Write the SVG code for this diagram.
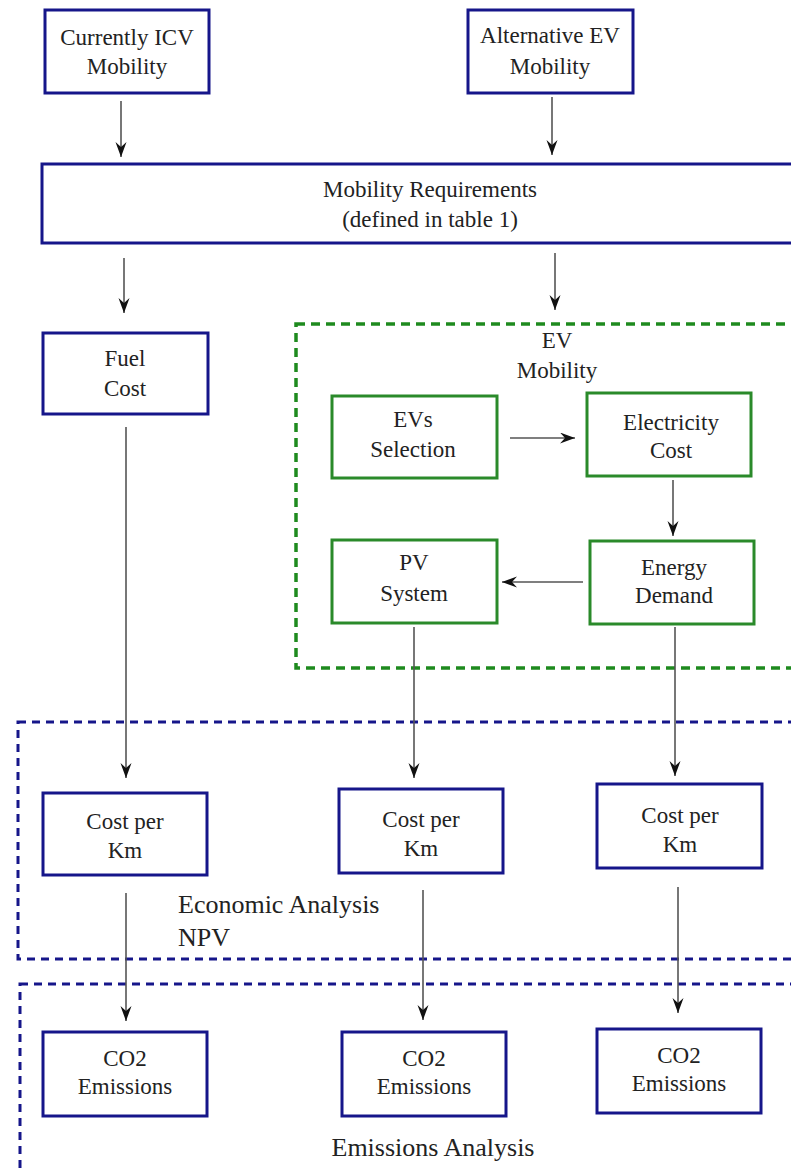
<svg xmlns="http://www.w3.org/2000/svg" width="791" height="1169" viewBox="0 0 791 1169">
<style>
.bn{fill:#fff;stroke:#16168a;stroke-width:3}
.gn{fill:#fff;stroke:#2a8a2a;stroke-width:3}
.t{font-family:"Liberation Serif","Times New Roman",serif;font-size:23px;fill:#222;text-anchor:middle}
.tl{font-family:"Liberation Serif","Times New Roman",serif;font-size:26px;fill:#222}
.c{stroke:#555;stroke-width:1.6;fill:none;marker-end:url(#ah)}
.bd{fill:none;stroke:#16168a;stroke-width:3;stroke-dasharray:8 6}
.gd{fill:none;stroke:#1e8a1e;stroke-width:3.5;stroke-dasharray:9 6}
</style>
<defs>
<marker id="ah" markerUnits="userSpaceOnUse" markerWidth="16" markerHeight="12" refX="15" refY="5.5" orient="auto">
<path d="M0,0 L15,5.5 L0,11 L5,5.5 Z" fill="#111"/>
</marker>
</defs>
<rect width="791" height="1169" fill="#fff"/>
<g id="groups">
<rect id="ev-mobility-group" class="gd" x="296" y="324" width="520" height="344"/>
<text class="t" x="557" y="348">EV</text>
<text class="t" x="557" y="378">Mobility</text>
<rect id="economic-group" class="bd" x="18" y="722" width="800" height="237"/>
<text class="tl" x="178" y="913">Economic Analysis</text>
<text class="tl" x="178" y="946">NPV</text>
<rect id="emissions-group" class="bd" x="20" y="984" width="800" height="300"/>
<text class="tl" x="433" y="1156" text-anchor="middle">Emissions Analysis</text>
</g>
<g id="connectors">
<line class="c" x1="121" y1="101" x2="121" y2="157"/>
<line class="c" x1="552" y1="97" x2="552" y2="155"/>
<line class="c" x1="124" y1="258" x2="124" y2="313"/>
<line class="c" x1="555" y1="253" x2="555" y2="310"/>
<line class="c" x1="126" y1="427" x2="126" y2="778"/>
<line class="c" x1="510" y1="438" x2="575" y2="438"/>
<line class="c" x1="673" y1="480" x2="673" y2="536"/>
<line class="c" x1="583" y1="582" x2="502" y2="582"/>
<line class="c" x1="414" y1="627" x2="414" y2="778"/>
<line class="c" x1="675" y1="627" x2="675" y2="776"/>
<line class="c" x1="126" y1="893" x2="126" y2="1021"/>
<line class="c" x1="423" y1="890" x2="423" y2="1020"/>
<line class="c" x1="678" y1="887" x2="678" y2="1013"/>
</g>
<g id="currently-icv">
<rect class="bn" x="45" y="10" width="164" height="83"/>
<text class="t" x="127" y="45">Currently ICV</text>
<text class="t" x="127" y="74">Mobility</text>
</g>
<g id="alternative-ev">
<rect class="bn" x="468" y="10" width="165" height="83"/>
<text class="t" x="550" y="43">Alternative EV</text>
<text class="t" x="550" y="74">Mobility</text>
</g>
<g id="mobility-requirements">
<rect class="bn" x="42" y="164" width="780" height="79"/>
<text class="t" x="430" y="197">Mobility Requirements</text>
<text class="t" x="430" y="227">(defined in table 1)</text>
</g>
<g id="fuel-cost">
<rect class="bn" x="43" y="333" width="165" height="81"/>
<text class="t" x="125" y="366">Fuel</text>
<text class="t" x="125" y="396">Cost</text>
</g>
<g id="evs-selection">
<rect class="gn" x="332" y="396" width="165" height="82"/>
<text class="t" x="413" y="427">EVs</text>
<text class="t" x="413" y="457">Selection</text>
</g>
<g id="electricity-cost">
<rect class="gn" x="587" y="393" width="164" height="83"/>
<text class="t" x="671" y="430">Electricity</text>
<text class="t" x="671" y="458">Cost</text>
</g>
<g id="pv-system">
<rect class="gn" x="332" y="540" width="165" height="83"/>
<text class="t" x="414" y="570">PV</text>
<text class="t" x="414" y="601">System</text>
</g>
<g id="energy-demand">
<rect class="gn" x="590" y="541" width="164" height="83"/>
<text class="t" x="674" y="575">Energy</text>
<text class="t" x="674" y="603">Demand</text>
</g>
<g id="cost-per-km-1">
<rect class="bn" x="43" y="793" width="164" height="82"/>
<text class="t" x="125" y="829">Cost per</text>
<text class="t" x="125" y="858">Km</text>
</g>
<g id="cost-per-km-2">
<rect class="bn" x="339" y="789" width="164" height="84"/>
<text class="t" x="421" y="827">Cost per</text>
<text class="t" x="421" y="856">Km</text>
</g>
<g id="cost-per-km-3">
<rect class="bn" x="597" y="784" width="165" height="84"/>
<text class="t" x="680" y="823">Cost per</text>
<text class="t" x="680" y="852">Km</text>
</g>
<g id="co2-1">
<rect class="bn" x="43" y="1032" width="164" height="84"/>
<text class="t" x="125" y="1066">CO2</text>
<text class="t" x="125" y="1094">Emissions</text>
</g>
<g id="co2-2">
<rect class="bn" x="342" y="1032" width="164" height="84"/>
<text class="t" x="424" y="1066">CO2</text>
<text class="t" x="424" y="1094">Emissions</text>
</g>
<g id="co2-3">
<rect class="bn" x="597" y="1029" width="164" height="84"/>
<text class="t" x="679" y="1063">CO2</text>
<text class="t" x="679" y="1091">Emissions</text>
</g>
</svg>
